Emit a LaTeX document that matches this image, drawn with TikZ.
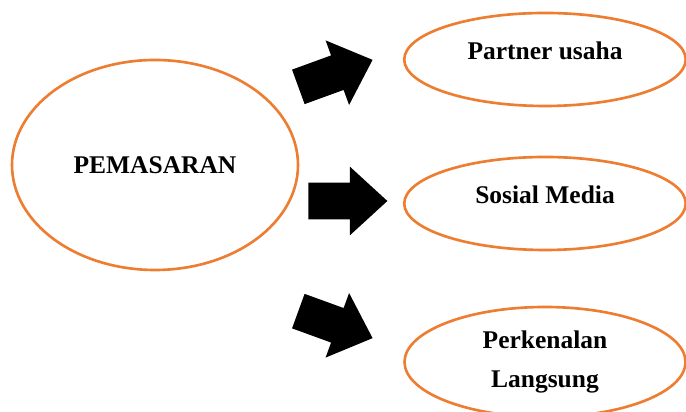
\documentclass[tikz,border=0pt]{standalone}
\usepackage{fontspec}
\setmainfont{Liberation Serif}
\usetikzlibrary{calc}
\usetikzlibrary{positioning}
\usetikzlibrary{shapes.geometric}
\usetikzlibrary{shapes.arrows}
\definecolor{ovalorange}{RGB}{237,125,49}
\tikzstyle{ovalnode} = [draw=ovalorange, line width=1.5pt, ellipse, inner sep=0, align=center, font=\bfseries\fontsize{14.5}{22.5}\selectfont]
\tikzstyle{smalloval} = [ovalnode, minimum width=5.63cm, minimum height=1.86cm, text height=0.36cm, text depth=0.36cm]
\tikzstyle{blockarrow} = [single arrow, fill=black, draw=none, anchor=tail, inner xsep=0, inner ysep=0.36cm, single arrow head extend=0.32cm, single arrow tip angle=85, minimum height=1.58cm]

\begin{document}
\begin{tikzpicture}
    \useasboundingbox (0,0) rectangle (13.72,8.24);
    \clip (0,0) rectangle (13.72,8.24);
    \node[ovalnode, minimum width=5.72cm, minimum height=4.2cm] (pemasaran) at (3.1,4.94) {PEMASARAN};
    \node[smalloval] (partner) at (10.9,7.05) {Partner usaha};
    \node[smalloval] (sosmed) at ($(partner)+(0,-2.88)$) {Sosial Media};
    \node[ovalnode, minimum width=5.62cm, minimum height=2.2cm] (kenal) at ($(sosmed)+(0,-3.17)$) {Perkenalan\\Langsung};

    \node[blockarrow, rotate=20] (arr_partner) at (5.96,6.5) {};
    \node[blockarrow] (arr_sosmed) at (6.16,4.22) {};
    \node[blockarrow, rotate=-20] (arr_kenal) at (5.96,2.02) {};
\end{tikzpicture}
\end{document}
